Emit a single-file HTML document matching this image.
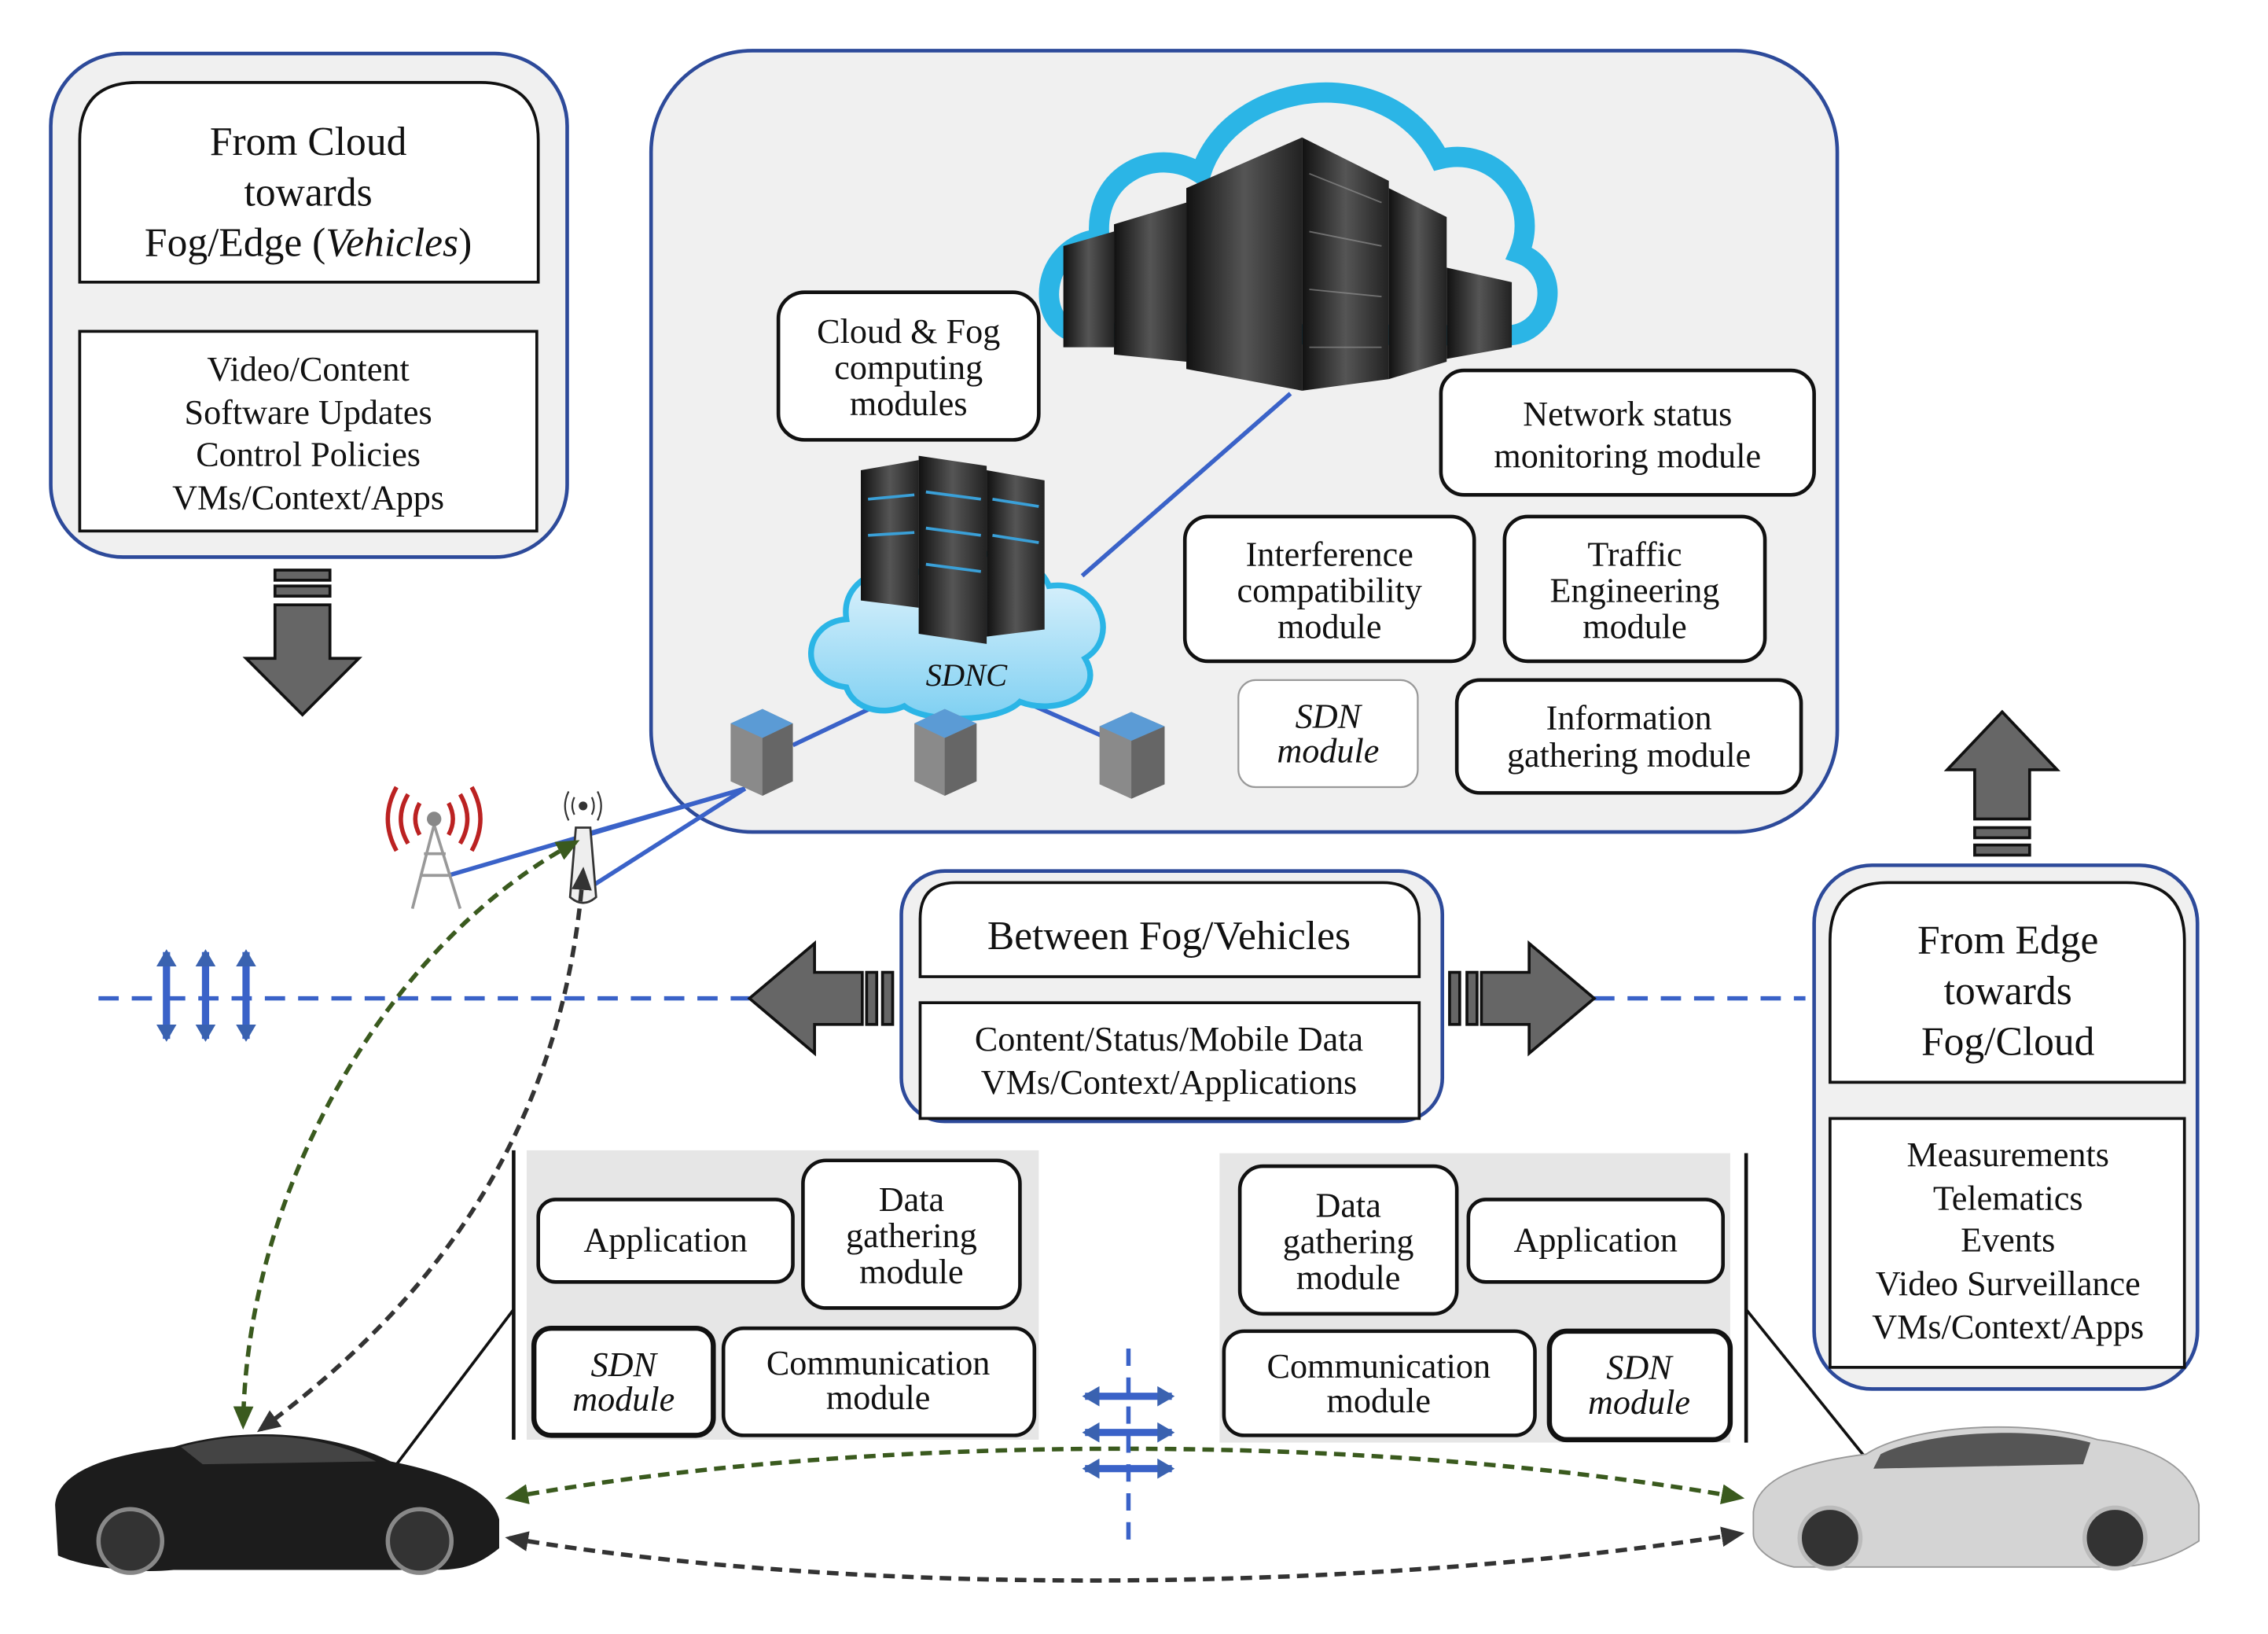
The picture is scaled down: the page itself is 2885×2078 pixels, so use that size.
<!DOCTYPE html>
<html><head><meta charset="utf-8"><style>
html,body{margin:0;padding:0;background:#fff}
svg{display:block}
text{font-family:"Liberation Serif",serif;fill:#111;text-anchor:middle}
</style></head><body>
<svg width="2885" height="2078" viewBox="0 0 1552 1118" xmlns="http://www.w3.org/2000/svg">
<defs>
<marker id="ag" markerUnits="userSpaceOnUse" markerWidth="16" markerHeight="14" refX="13" refY="7" orient="auto"><path d="M0,0 L16,7 L0,14 z" fill="#3a5a1e"/></marker>
<marker id="ags" markerUnits="userSpaceOnUse" markerWidth="16" markerHeight="14" refX="3" refY="7" orient="auto"><path d="M16,0 L0,7 L16,14 z" fill="#3a5a1e"/></marker>
<marker id="ad" markerUnits="userSpaceOnUse" markerWidth="16" markerHeight="14" refX="13" refY="7" orient="auto"><path d="M0,0 L16,7 L0,14 z" fill="#333"/></marker>
<marker id="ads" markerUnits="userSpaceOnUse" markerWidth="16" markerHeight="14" refX="3" refY="7" orient="auto"><path d="M16,0 L0,7 L16,14 z" fill="#333"/></marker>
<marker id="ab" markerUnits="userSpaceOnUse" markerWidth="12" markerHeight="14" refX="10" refY="7" orient="auto"><path d="M0,0 L12,7 L0,14 z" fill="#3a62b0"/></marker>
<marker id="abs" markerUnits="userSpaceOnUse" markerWidth="12" markerHeight="14" refX="2" refY="7" orient="auto"><path d="M12,0 L0,7 L12,14 z" fill="#3a62b0"/></marker>
<linearGradient id="srv" x1="0" x2="1"><stop offset="0" stop-color="#111"/><stop offset="0.5" stop-color="#555"/><stop offset="1" stop-color="#222"/></linearGradient>
<linearGradient id="cb" x1="0" y1="0" x2="0" y2="1"><stop offset="0" stop-color="#e8f6fd"/><stop offset="1" stop-color="#7fd0f2"/></linearGradient>
</defs>
<g transform="scale(0.99)">
<!-- Left top box -->
<rect x="35" y="37" width="357" height="348" rx="50" fill="#f0f0f0" stroke="#2d4a9a" stroke-width="2.5"/>
<path d="M55,195 V97 Q55,57 95,57 H332 Q372,57 372,97 V195 Z" fill="#fff" stroke="#111" stroke-width="2"/>
<text x="213" y="107" font-size="28">From Cloud</text>
<text x="213" y="142" font-size="28">towards</text>
<text x="213" y="177" font-size="28">Fog/Edge (<tspan font-style="italic">Vehicles</tspan>)</text>
<rect x="55" y="229" width="316" height="138" fill="#fff" stroke="#111" stroke-width="2"/>
<text x="213" y="263" font-size="24">Video/Content</text>
<text x="213" y="293" font-size="24">Software Updates</text>
<text x="213" y="322" font-size="24">Control Policies</text>
<text x="213" y="352" font-size="24">VMs/Context/Apps</text>

<g fill="#666" stroke="#111" stroke-width="2">
<rect x="190" y="394" width="38" height="7"/><rect x="190" y="405" width="38" height="7"/>
<path d="M190,418 H228 V455 H248 L209,494 L170,455 H190 Z"/>
</g>

<!-- Central box -->
<rect x="450" y="35" width="820" height="540" rx="70" fill="#f0f0f0" stroke="#2d4a9a" stroke-width="2.5"/>
<path d="M745,230 C715,225 718,170 760,165 C755,120 800,100 830,120 C850,55 960,40 995,110 C1035,100 1065,140 1050,175 C1080,185 1075,232 1040,232 Z" fill="none" stroke="#2bb5e6" stroke-width="14"/>
<g fill="url(#srv)">
<polygon points="735,170 770,160 770,240 735,240"/>
<polygon points="770,155 820,140 820,250 770,245"/>
<polygon points="820,130 900,95 900,270 820,255"/>
<polygon points="900,95 960,125 960,262 900,270"/>
<polygon points="960,130 1000,150 1000,250 960,262"/>
<polygon points="1000,185 1045,195 1045,240 1000,248"/>
</g>
<g stroke="#999" stroke-width="1" opacity="0.6">
<line x1="905" y1="120" x2="955" y2="140"/><line x1="905" y1="160" x2="955" y2="170"/><line x1="905" y1="200" x2="955" y2="205"/><line x1="905" y1="240" x2="955" y2="240"/>
</g>

<rect x="538" y="202" width="180" height="102" rx="18" fill="#fff" stroke="#111" stroke-width="2.5"/>
<text x="628" y="237" font-size="24">Cloud &amp; Fog</text>
<text x="628" y="262" font-size="24">computing</text>
<text x="628" y="287" font-size="24">modules</text>

<rect x="996" y="256" width="258" height="86" rx="16" fill="#fff" stroke="#111" stroke-width="2.5"/>
<text x="1125" y="294" font-size="24">Network status</text>
<text x="1125" y="323" font-size="24">monitoring module</text>

<rect x="819" y="357" width="200" height="100" rx="16" fill="#fff" stroke="#111" stroke-width="2.5"/>
<text x="919" y="391" font-size="24">Interference</text>
<text x="919" y="416" font-size="24">compatibility</text>
<text x="919" y="441" font-size="24">module</text>

<rect x="1040" y="357" width="180" height="100" rx="16" fill="#fff" stroke="#111" stroke-width="2.5"/>
<text x="1130" y="391" font-size="24">Traffic</text>
<text x="1130" y="416" font-size="24">Engineering</text>
<text x="1130" y="441" font-size="24">module</text>

<rect x="856" y="470" width="124" height="74" rx="12" fill="#fff" stroke="#999" stroke-width="1.2"/>
<text x="918" y="503" font-size="24" font-style="italic">SDN</text>
<text x="918" y="527" font-size="24" font-style="italic">module</text>

<rect x="1007" y="470" width="238" height="78" rx="16" fill="#fff" stroke="#111" stroke-width="2.5"/>
<text x="1126" y="504" font-size="24">Information</text>
<text x="1126" y="530" font-size="24">gathering module</text>

<g stroke="#3a62c8" stroke-width="3" fill="none">
<line x1="748" y1="398" x2="892" y2="272"/>
<line x1="548" y1="515" x2="605" y2="488"/>
<line x1="715" y1="488" x2="765" y2="510"/>
<line x1="515" y1="545" x2="310" y2="605"/>
<line x1="515" y1="545" x2="400" y2="578"/>
<line x1="515" y1="545" x2="405" y2="615"/>
</g>
<path d="M585,475 C550,470 555,430 585,428 C580,395 625,385 645,400 C660,375 715,378 725,405 C760,400 775,440 750,455 C765,480 730,495 705,485 C690,500 640,500 625,488 C610,495 590,490 585,475 Z" fill="url(#cb)" stroke="#2bb5e6" stroke-width="4"/>
<g fill="url(#srv)">
<polygon points="595,325 635,318 635,420 595,415"/>
<polygon points="635,315 682,322 682,445 635,438"/>
<polygon points="682,325 722,332 722,435 682,440"/>
</g>
<g stroke="#3aa0d8" stroke-width="2"><line x1="640" y1="340" x2="678" y2="345"/><line x1="640" y1="365" x2="678" y2="370"/><line x1="640" y1="390" x2="678" y2="395"/><line x1="686" y1="345" x2="718" y2="350"/><line x1="686" y1="370" x2="718" y2="375"/><line x1="600" y1="345" x2="632" y2="342"/><line x1="600" y1="370" x2="632" y2="368"/></g>
<text x="668" y="474" font-size="22" font-style="italic">SDNC</text>
<g>
<polygon points="505,500 527,490 548,500 548,540 527,550 505,540" fill="#8a8a8a"/><polygon points="505,500 527,490 548,500 527,510" fill="#5b9bd5"/><polygon points="527,510 548,500 548,540 527,550" fill="#666"/>
<polygon points="632,500 653,490 675,500 675,540 653,550 632,540" fill="#8a8a8a"/><polygon points="632,500 653,490 675,500 653,510" fill="#5b9bd5"/><polygon points="653,510 675,500 675,540 653,550" fill="#666"/>
<polygon points="760,502 782,492 805,502 805,542 782,552 760,542" fill="#8a8a8a"/><polygon points="760,502 782,492 805,502 782,512" fill="#5b9bd5"/><polygon points="782,512 805,502 805,542 782,552" fill="#666"/>
</g>

<g stroke="#999" stroke-width="2" fill="none">
<path d="M300,570 L285,628 M300,570 L318,628 M290,605 H312 M293,590 H308"/>
</g>
<circle cx="300" cy="566" r="5" fill="#888"/>
<g stroke="#b22" stroke-width="3" fill="none">
<path d="M290,555 Q284,566 290,577"/><path d="M282,549 Q272,566 282,583"/><path d="M274,544 Q262,566 274,588"/>
<path d="M310,555 Q316,566 310,577"/><path d="M318,549 Q328,566 318,583"/><path d="M326,544 Q338,566 326,588"/>
</g>
<path d="M398,572 L394,620 Q403,628 412,620 L408,572 Z" fill="#eee" stroke="#333" stroke-width="1.5"/>
<circle cx="403" cy="557" r="3" fill="#333"/>
<g stroke="#333" stroke-width="1.2" fill="none"><path d="M397,551 Q394,557 397,563"/><path d="M409,551 Q412,557 409,563"/><path d="M393,547 Q388,557 393,567"/><path d="M413,547 Q418,557 413,567"/></g>

<g stroke="#3a62c8" stroke-width="3" stroke-dasharray="14,9">
<line x1="68" y1="690" x2="518" y2="690"/><line x1="1102" y1="690" x2="1248" y2="690"/>
</g>
<g stroke="#3a62c8" stroke-width="5" marker-start="url(#abs)" marker-end="url(#ab)">
<line x1="115" y1="658" x2="115" y2="718"/><line x1="142" y1="658" x2="142" y2="718"/><line x1="170" y1="658" x2="170" y2="718"/>
</g>

<rect x="623" y="602" width="374" height="173" rx="30" fill="#f0f0f0" stroke="#2d4a9a" stroke-width="2.5"/>
<path d="M636,675 V635 Q636,610 661,610 H956 Q981,610 981,635 V675 Z" fill="#fff" stroke="#111" stroke-width="2"/>
<text x="808" y="656" font-size="28">Between Fog/Vehicles</text>
<rect x="636" y="693" width="345" height="80" fill="#fff" stroke="#111" stroke-width="2"/>
<text x="808" y="726" font-size="24">Content/Status/Mobile Data</text>
<text x="808" y="756" font-size="24">VMs/Context/Applications</text>

<g fill="#666" stroke="#111" stroke-width="2">
<path d="M518,690 L563,652 V672 H596 V708 H563 V728 Z"/>
<rect x="599" y="672" width="7" height="36"/><rect x="610" y="672" width="7" height="36"/>
<path d="M1102,690 L1057,652 V672 H1024 V708 H1057 V728 Z"/>
<rect x="1014" y="672" width="7" height="36"/><rect x="1002" y="672" width="7" height="36"/>
<path d="M1384,492 L1422,532 H1403 V566 H1365 V532 H1346 Z"/>
<rect x="1365" y="572" width="38" height="7"/><rect x="1365" y="584" width="38" height="7"/>
</g>

<rect x="1254" y="598" width="265" height="362" rx="40" fill="#f0f0f0" stroke="#2d4a9a" stroke-width="2.5"/>
<path d="M1265,748 V650 Q1265,610 1305,610 H1470 Q1510,610 1510,650 V748 Z" fill="#fff" stroke="#111" stroke-width="2"/>
<text x="1388" y="659" font-size="28">From Edge</text>
<text x="1388" y="694" font-size="28">towards</text>
<text x="1388" y="729" font-size="28">Fog/Cloud</text>
<rect x="1265" y="773" width="245" height="172" fill="#fff" stroke="#111" stroke-width="2"/>
<text x="1388" y="806" font-size="24">Measurements</text>
<text x="1388" y="836" font-size="24">Telematics</text>
<text x="1388" y="865" font-size="24">Events</text>
<text x="1388" y="895" font-size="24">Video Surveillance</text>
<text x="1388" y="925" font-size="24">VMs/Context/Apps</text>

<rect x="364" y="795" width="354" height="200" fill="#e6e6e6"/>
<line x1="355" y1="795" x2="355" y2="995" stroke="#111" stroke-width="2.5"/>
<rect x="372" y="829" width="176" height="57" rx="12" fill="#fff" stroke="#111" stroke-width="2.5"/>
<text x="460" y="865" font-size="24">Application</text>
<rect x="555" y="802" width="150" height="102" rx="16" fill="#fff" stroke="#111" stroke-width="2.5"/>
<text x="630" y="837" font-size="24">Data</text>
<text x="630" y="862" font-size="24">gathering</text>
<text x="630" y="887" font-size="24">module</text>
<rect x="369" y="918" width="124" height="74" rx="12" fill="#fff" stroke="#111" stroke-width="3.5"/>
<text x="431" y="951" font-size="24" font-style="italic">SDN</text>
<text x="431" y="975" font-size="24" font-style="italic">module</text>
<rect x="500" y="918" width="215" height="74" rx="14" fill="#fff" stroke="#111" stroke-width="2.5"/>
<text x="607" y="950" font-size="24">Communication</text>
<text x="607" y="974" font-size="24">module</text>

<rect x="843" y="797" width="353" height="200" fill="#e6e6e6"/>
<line x1="1207" y1="797" x2="1207" y2="997" stroke="#111" stroke-width="2.5"/>
<rect x="857" y="806" width="150" height="102" rx="16" fill="#fff" stroke="#111" stroke-width="2.5"/>
<text x="932" y="841" font-size="24">Data</text>
<text x="932" y="866" font-size="24">gathering</text>
<text x="932" y="891" font-size="24">module</text>
<rect x="1015" y="829" width="176" height="57" rx="12" fill="#fff" stroke="#111" stroke-width="2.5"/>
<text x="1103" y="865" font-size="24">Application</text>
<rect x="846" y="920" width="215" height="72" rx="14" fill="#fff" stroke="#111" stroke-width="2.5"/>
<text x="953" y="952" font-size="24">Communication</text>
<text x="953" y="976" font-size="24">module</text>
<rect x="1071" y="920" width="125" height="75" rx="12" fill="#fff" stroke="#111" stroke-width="3.5"/>
<text x="1133" y="953" font-size="24" font-style="italic">SDN</text>
<text x="1133" y="977" font-size="24" font-style="italic">module</text>

<line x1="355" y1="905" x2="268" y2="1020" stroke="#111" stroke-width="2"/>
<line x1="1207" y1="905" x2="1290" y2="1008" stroke="#111" stroke-width="2"/>

<path d="M38,1040 C40,1015 80,1005 120,1000 C170,985 230,990 270,1010 C310,1018 340,1030 345,1050 L345,1070 C330,1082 320,1085 300,1085 L120,1085 C90,1088 55,1082 40,1075 Z" fill="#1c1c1c"/>
<path d="M125,1000 C170,988 220,990 260,1010 L140,1012 Z" fill="#444"/>
<circle cx="90" cy="1065" r="22" fill="#333" stroke="#888" stroke-width="3"/>
<circle cx="290" cy="1065" r="22" fill="#333" stroke="#888" stroke-width="3"/>
<path d="M1212,1045 C1215,1020 1250,1010 1290,1005 C1320,985 1400,980 1450,995 C1490,1000 1515,1015 1520,1040 L1520,1065 C1500,1078 1480,1083 1460,1083 L1240,1083 C1225,1080 1212,1070 1212,1060 Z" fill="#d4d4d4" stroke="#999"/>
<path d="M1300,1005 C1330,990 1400,985 1445,997 L1440,1012 L1295,1015 Z" fill="#555"/>
<circle cx="1265" cy="1063" r="21" fill="#333" stroke="#bbb" stroke-width="3"/>
<circle cx="1462" cy="1063" r="21" fill="#333" stroke="#bbb" stroke-width="3"/>

<path d="M398,582 C270,650 170,820 168,985" fill="none" stroke="#3a5a1e" stroke-width="3" stroke-dasharray="8,5" marker-start="url(#ags)" marker-end="url(#ag)"/>
<path d="M403,602 C390,780 300,900 180,988" fill="none" stroke="#333" stroke-width="3" stroke-dasharray="8,5" marker-start="url(#ads)" marker-end="url(#ad)"/>
<path d="M352,1035 C600,990 950,990 1203,1035" fill="none" stroke="#3a5a1e" stroke-width="3" stroke-dasharray="8,5" marker-start="url(#ags)" marker-end="url(#ag)"/>
<path d="M352,1063 C600,1105 950,1100 1203,1060" fill="none" stroke="#333" stroke-width="3" stroke-dasharray="8,5" marker-start="url(#ads)" marker-end="url(#ad)"/>

<line x1="780" y1="932" x2="780" y2="1065" stroke="#3a62c8" stroke-width="3" stroke-dasharray="12,8"/>
<g stroke="#3a62c8" stroke-width="5" marker-start="url(#abs)" marker-end="url(#ab)">
<line x1="750" y1="965" x2="810" y2="965"/><line x1="750" y1="990" x2="810" y2="990"/><line x1="750" y1="1015" x2="810" y2="1015"/>
</g>
</g>
</svg>
</body></html>
